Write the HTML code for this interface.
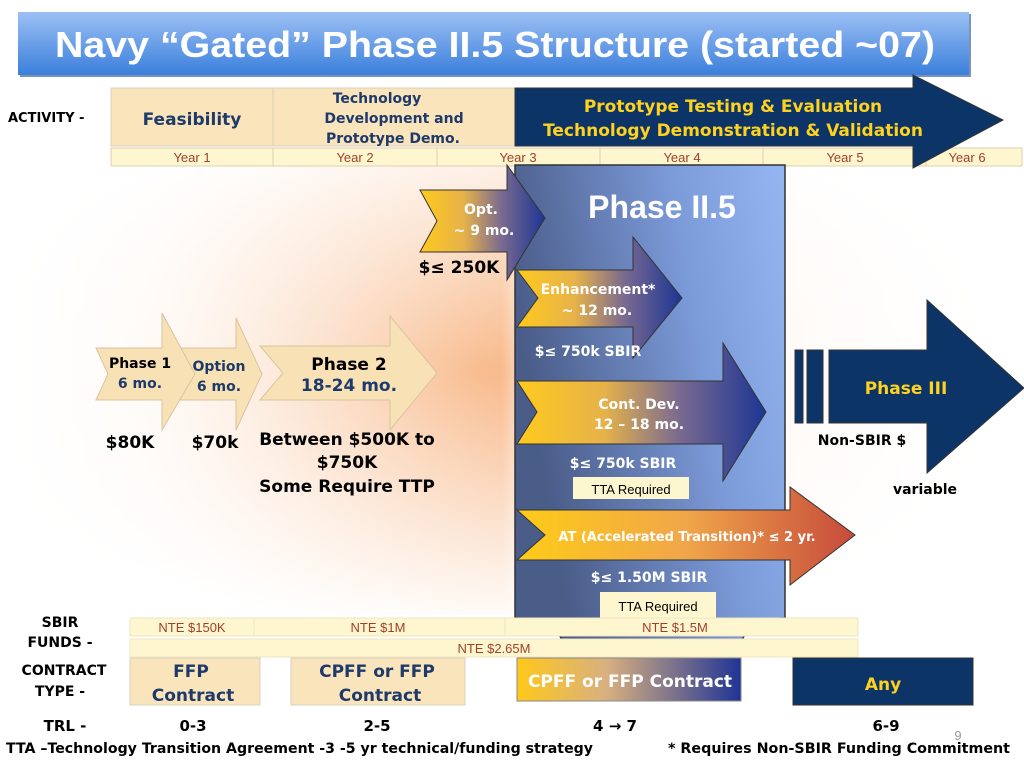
<!DOCTYPE html>
<html><head><meta charset="utf-8"><style>
body{margin:0;width:1024px;height:768px;overflow:hidden;background:#fff}
svg{display:block}
.v{font-family:"DejaVu Sans",Verdana,sans-serif;font-weight:bold}
.t{font-family:"Liberation Sans",Arial,sans-serif}
</style></head><body>
<svg width="1024" height="768" viewBox="0 0 1024 768" xmlns="http://www.w3.org/2000/svg">
<defs>
<linearGradient id="bgH" x1="0" x2="1" y1="0" y2="0">
<stop offset="0" stop-color="#fff"/><stop offset="0.15" stop-color="#fef3ea"/><stop offset="0.49" stop-color="#f8b98a"/><stop offset="0.52" stop-color="#fde8d8"/><stop offset="1" stop-color="#fff"/></linearGradient>
<radialGradient id="bgR" cx="0.47" cy="0.45" r="0.55">
<stop offset="0" stop-color="#fff" stop-opacity="0"/><stop offset="1" stop-color="#fff" stop-opacity="1"/></radialGradient>
<linearGradient id="title" x1="0" x2="0" y1="0" y2="1"><stop offset="0" stop-color="#9cc0f4"/><stop offset="1" stop-color="#3b7fdc"/></linearGradient>
<linearGradient id="ph" x1="0" x2="1" y1="0.3" y2="0"><stop offset="0" stop-color="#4a5c88"/><stop offset="0.6" stop-color="#7b9ad8"/><stop offset="1" stop-color="#95b6f2"/></linearGradient>
<linearGradient id="yb" x1="0" x2="1"><stop offset="0" stop-color="#ffca1c"/><stop offset="0.35" stop-color="#e6b24a"/><stop offset="0.65" stop-color="#7a6a90"/><stop offset="1" stop-color="#1c3594"/></linearGradient>
<linearGradient id="yr" x1="0" x2="1"><stop offset="0" stop-color="#ffcc18"/><stop offset="0.5" stop-color="#f0a64a"/><stop offset="1" stop-color="#c64a3c"/></linearGradient>
<linearGradient id="cg" x1="0" x2="1"><stop offset="0" stop-color="#ffc81a"/><stop offset="0.4" stop-color="#d8b080"/><stop offset="1" stop-color="#1f3496"/></linearGradient>
</defs>
<rect width="1024" height="768" fill="url(#bgH)"/>
<rect x="0" y="160" width="1024" height="470" fill="url(#bgR)"/>
<rect x="0" y="0" width="1024" height="165" fill="#fff"/>
<rect x="0" y="615" width="1024" height="153" fill="#fff"/>

<!-- title -->
<rect x="20" y="14" width="951" height="63" fill="#7a94b8"/>
<rect x="18" y="12" width="951" height="63" fill="url(#title)"/>
<text x="55" y="57" class="t" font-size="36" font-weight="bold" fill="#fff" textLength="880" lengthAdjust="spacingAndGlyphs">Navy “Gated” Phase II.5 Structure (started ~07)</text>

<!-- activity -->
<text x="8" y="122" class="v" font-size="13" fill="#000">ACTIVITY -</text>
<rect x="111" y="88" width="162" height="58" fill="#fae4bc" stroke="#d8d0c0"/>
<rect x="273" y="88" width="245" height="58" fill="#fae4bc" stroke="#d8d0c0"/>
<text x="192" y="125" class="v" font-size="17" fill="#1d3a6a" text-anchor="middle">Feasibility</text>
<text class="v" font-size="14" fill="#1d3a6a" text-anchor="middle"><tspan x="377" y="103">Technology</tspan><tspan x="394" y="123">Development and</tspan><tspan x="393" y="143">Prototype Demo.</tspan></text>
<g fill="#fdf6cf" stroke="#e0cfb0">
<rect x="111" y="148" width="162" height="18"/><rect x="273" y="148" width="164" height="18"/><rect x="437" y="148" width="163" height="18"/><rect x="600" y="148" width="163" height="18"/><rect x="763" y="148" width="163" height="18"/><rect x="926" y="148" width="96" height="18"/></g>
<g class="t" font-size="13" fill="#a0402a" text-anchor="middle">
<text x="192" y="162">Year 1</text><text x="355" y="162">Year 2</text><text x="518" y="162">Year 3</text><text x="682" y="162">Year 4</text><text x="845" y="162">Year 5</text><text x="967" y="162">Year 6</text></g>

<!-- phase II.5 box -->
<path d="M515 165 H785 V618 Q752 618 742 640 H562 Q552 618 515 618 Z" fill="url(#ph)" stroke="#333" stroke-width="1.5"/>
<path d="M515 88 H913 V75 L1003 120 L913 168 V146 H515 Z" fill="#0c3466" stroke="#333"/>
<text class="v" font-size="17" fill="#ffd21f" text-anchor="middle"><tspan x="733" y="112">Prototype Testing &amp; Evaluation</tspan><tspan x="733" y="136">Technology Demonstration &amp; Validation</tspan></text>
<text x="662" y="218" class="t" font-size="32" font-weight="bold" fill="#fff" text-anchor="middle">Phase II.5</text>

<!-- opt arrow -->
<path d="M420 190 H507 V165 L545 218 L507 280 V252 H420 L437 221 Z" fill="url(#yb)" stroke="#333"/>
<text class="v" font-size="14" fill="#fff" text-anchor="middle"><tspan x="481" y="214">Opt.</tspan><tspan x="484" y="235">~ 9 mo.</tspan></text>
<text x="459" y="273" class="v" font-size="17" fill="#000" text-anchor="middle">$≤ 250K</text>

<path d="M517 270 H633 V237 L682 298 L633 358 V327 H517 L538 298 Z" fill="url(#yb)" stroke="#333"/>
<text class="v" font-size="14" fill="#fff" text-anchor="middle"><tspan x="598" y="294">Enhancement*</tspan><tspan x="597" y="315">~ 12 mo.</tspan></text>
<text x="588" y="356" class="v" font-size="14" fill="#fff" text-anchor="middle">$≤ 750k SBIR</text>

<path d="M517 381 H723 V343 L766 412 L723 481 V444 H517 L537 412 Z" fill="url(#yb)" stroke="#333"/>
<text class="v" font-size="14" fill="#fff" text-anchor="middle"><tspan x="639" y="409">Cont. Dev.</tspan><tspan x="639" y="429">12 – 18 mo.</tspan></text>
<text x="623" y="468" class="v" font-size="14" fill="#fff" text-anchor="middle">$≤ 750k SBIR</text>
<rect x="573" y="477" width="116" height="22" fill="#fdf6cf"/>
<text x="631" y="494" class="t" font-size="13" fill="#000" text-anchor="middle">TTA  Required</text>

<path d="M517 510 H790 V487 L855 535 L790 585 V560 H517 L545 535 Z" fill="url(#yr)" stroke="#333"/>
<text x="687" y="541" class="v" font-size="13" fill="#fff" text-anchor="middle">AT (Accelerated Transition)* ≤ 2 yr.</text>
<text x="649" y="582" class="v" font-size="14" fill="#fff" text-anchor="middle">$≤ 1.50M SBIR</text>
<rect x="600" y="592" width="116" height="26" fill="#fdf6cf"/>
<text x="658" y="611" class="t" font-size="13" fill="#000" text-anchor="middle">TTA  Required</text>

<!-- phase III -->
<g fill="#0c3466" stroke="#333">
<rect x="795" y="350" width="8" height="73"/><rect x="807" y="350" width="16" height="73"/>
<path d="M829 350 H927 V300 L1024 388 L927 473 V423 H829 Z"/></g>
<text x="906" y="394" class="v" font-size="17" fill="#ffd21f" text-anchor="middle">Phase III</text>
<text x="862" y="445" class="v" font-size="14" fill="#000" text-anchor="middle">Non-SBIR $</text>
<text x="925" y="494" class="v" font-size="14" fill="#000" text-anchor="middle">variable</text>

<!-- left arrows -->
<g fill="#f9e1b6" stroke="#d8c4a0">
<path d="M260 346 H390 V316 L437 373 L390 430 V400 H260 L283 373 Z"/>
<path d="M175 348 H236 V318 L262 374 L236 430 V400 H175 L188 374 Z"/>
<path d="M96 348 H162 V313 L195 374 L162 430 V400 H96 L108 374 Z"/></g>
<text class="v" font-size="14" text-anchor="middle"><tspan x="140" y="368" fill="#000">Phase 1</tspan><tspan x="140" y="388" fill="#1d3a6a">6 mo.</tspan></text>
<text class="v" font-size="14" fill="#1d3a6a" text-anchor="middle"><tspan x="219" y="371">Option</tspan><tspan x="219" y="391">6 mo.</tspan></text>
<text class="v" font-size="17" text-anchor="middle"><tspan x="349" y="370" fill="#000">Phase 2</tspan><tspan x="349" y="391" fill="#1d3a6a">18-24 mo.</tspan></text>
<text x="130" y="448" class="v" font-size="17" fill="#000" text-anchor="middle">$80K</text>
<text x="215" y="448" class="v" font-size="17" fill="#000" text-anchor="middle">$70k</text>
<text class="v" font-size="17" fill="#000" text-anchor="middle"><tspan x="347" y="445">Between $500K to</tspan><tspan x="347" y="468">$750K</tspan><tspan x="347" y="492">Some Require TTP</tspan></text>

<!-- SBIR funds -->
<text class="v" font-size="14" fill="#000" text-anchor="middle"><tspan x="60" y="627">SBIR</tspan><tspan x="60" y="647">FUNDS -</tspan></text>
<g fill="#fdf6cf" stroke="#efe6c0">
<rect x="130" y="618" width="124" height="18"/><rect x="254" y="618" width="251" height="18"/><rect x="505" y="618" width="353" height="18"/><rect x="130" y="639" width="728" height="18"/></g>
<g class="t" font-size="13" fill="#a0402a" text-anchor="middle">
<text x="192" y="632">NTE $150K</text><text x="378" y="632">NTE $1M</text><text x="675" y="632">NTE $1.5M</text><text x="494" y="653">NTE $2.65M</text></g>

<!-- contract -->
<text class="v" font-size="14" fill="#000" text-anchor="middle"><tspan x="64" y="675">CONTRACT</tspan><tspan x="60" y="696">TYPE -</tspan></text>
<rect x="130" y="658" width="130" height="47" fill="#fae4bc" stroke="#d8d0c0"/>
<rect x="291" y="658" width="174" height="47" fill="#fae4bc" stroke="#d8d0c0"/>
<rect x="517" y="658" width="224" height="43" fill="url(#cg)" stroke="#888"/>
<rect x="793" y="658" width="180" height="47" fill="#0c3466" stroke="#333"/>
<text class="v" font-size="17" fill="#1d3a6a" text-anchor="middle"><tspan x="191" y="677">FFP</tspan><tspan x="193" y="701">Contract</tspan></text>
<text class="v" font-size="17" fill="#1d3a6a" text-anchor="middle"><tspan x="377" y="677">CPFF or FFP</tspan><tspan x="380" y="701">Contract</tspan></text>
<text x="630" y="687" class="v" font-size="17" fill="#fff" text-anchor="middle">CPFF or FFP Contract</text>
<text x="883" y="690" class="v" font-size="17" fill="#ffd21f" text-anchor="middle">Any</text>

<!-- TRL -->
<g class="v" font-size="15" fill="#000" text-anchor="middle">
<text x="65" y="731">TRL -</text><text x="193" y="731">0-3</text><text x="377" y="731">2-5</text><text x="615" y="731">4 → 7</text><text x="886" y="731">6-9</text></g>
<text x="958" y="740" class="t" font-size="13" fill="#999" text-anchor="middle">9</text>
<text x="6" y="753" class="v" font-size="14" fill="#000" textLength="587" lengthAdjust="spacingAndGlyphs">TTA –Technology Transition Agreement -3 -5 yr technical/funding strategy</text>
<text x="668" y="753" class="v" font-size="14" fill="#000" textLength="342" lengthAdjust="spacingAndGlyphs">* Requires Non-SBIR Funding Commitment</text>
</svg>
</body></html>
